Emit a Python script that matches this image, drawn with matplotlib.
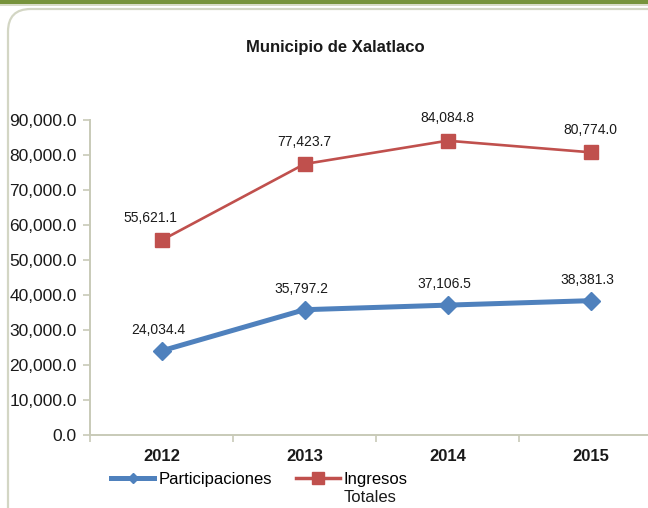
import matplotlib
matplotlib.use("Agg")
import matplotlib.pyplot as plt
from matplotlib.patches import FancyBboxPatch, Rectangle
from matplotlib.lines import Line2D

plt.rcParams['font.family'] = ['Liberation Sans', 'DejaVu Sans']

years = ['2012', '2013', '2014', '2015']
participaciones = [24034.4, 35797.2, 37106.5, 38381.3]
ingresos_totales = [55621.1, 77423.7, 84084.8, 80774.0]
yticks = [0, 10000, 20000, 30000, 40000, 50000, 60000, 70000, 80000, 90000]

blue = '#4F81BD'
red = '#C0504D'
axis_col = '#C8CAB8'

W, H = 648, 508
fig = plt.figure(figsize=(W / 100, H / 100), dpi=100)

# top green band and rounded frame
fig.patches.append(Rectangle((0, 1 - 4 / H), 1, 4 / H, transform=fig.transFigure,
                             facecolor='#77933C', edgecolor='none'))
fig.patches.append(Rectangle((0, 1 - 6 / H), 1, 2 / H, transform=fig.transFigure,
                             facecolor='#D9DCC9', edgecolor='none'))
fig.patches.append(FancyBboxPatch((8 / W, -0.2), 1.2, 1.2 - 9 / H,
                                  boxstyle='round,pad=0,rounding_size=0.035',
                                  transform=fig.transFigure, facecolor='none',
                                  edgecolor='#D3D6C4', lw=1.6, mutation_aspect=W / H))

ax = fig.add_axes([90 / W, 73 / H, 572 / W, 315 / H])
x = list(range(len(years)))

ax.plot(x, participaciones, color=blue, lw=3.6, marker='D', ms=9.5,
        markerfacecolor=blue, markeredgecolor=blue, zorder=3)
ax.plot(x, ingresos_totales, color=red, lw=1.9, marker='s', ms=9.5,
        markerfacecolor=red, markeredgecolor=red, zorder=3)

for xi, v in zip(x, participaciones):
    ax.annotate(f'{v:,.1f}', (xi, v), xytext=(-2, 15), textcoords='offset points',
                ha='center', va='center', fontsize=10, color='#1a1a1a')
for i, (xi, v) in enumerate(zip(x, ingresos_totales)):
    dx = -8 if i == 0 else 0
    ax.annotate(f'{v:,.1f}', (xi, v), xytext=(dx, 16), textcoords='offset points',
                ha='center', va='center', fontsize=10, color='#1a1a1a')

ax.set_xlim(-0.5, 3.5)
ax.set_ylim(0, 90000)
ax.set_yticks(yticks)
ax.set_yticklabels([f'{t:,.1f}' for t in yticks], fontsize=12.5, color='#1a1a1a')
ax.set_xticks(x)
ax.set_xticklabels(years, fontsize=12, fontweight='bold', color='#1a1a1a')
ax.set_xticks([i - 0.5 for i in range(len(years) + 1)], minor=True)
ax.tick_params(axis='x', which='major', length=0, pad=10)
ax.tick_params(axis='x', which='minor', length=5, color=axis_col, width=1.2, direction='out')
ax.tick_params(axis='y', length=5, color=axis_col, width=1.2, pad=4.5)
for s in ['top', 'right']:
    ax.spines[s].set_visible(False)
for s in ['left', 'bottom']:
    ax.spines[s].set_color(axis_col)
    ax.spines[s].set_linewidth(1.4)
ax.set_facecolor('none')

fig.text(335 / W, 1 - 47 / H, 'Municipio de Xalatlaco', ha='center', va='center',
         fontsize=12, fontweight='bold', color='#1a1a1a')

handles = [Line2D([], [], color=blue, lw=3.6, marker='D', ms=5),
           Line2D([], [], color=red, lw=2.5, marker='s', ms=8)]
leg = fig.legend(handles, ['Participaciones', 'Ingresos'], ncol=2,
                 loc='upper left', bbox_to_anchor=(111 / W, 1 - 472 / H), frameon=False,
                 fontsize=12, handlelength=2.6, handletextpad=0.25, columnspacing=1.45,
                 borderpad=0, borderaxespad=0)

# second line of the "Ingresos Totales" legend label
fig.canvas.draw()
bb = leg.get_texts()[1].get_window_extent().transformed(fig.transFigure.inverted())
fig.text(bb.x0, bb.y0 - 3 / H, 'Totales', ha='left', va='top', fontsize=12, color='#1a1a1a')

fig.savefig('out.png', dpi=100)
